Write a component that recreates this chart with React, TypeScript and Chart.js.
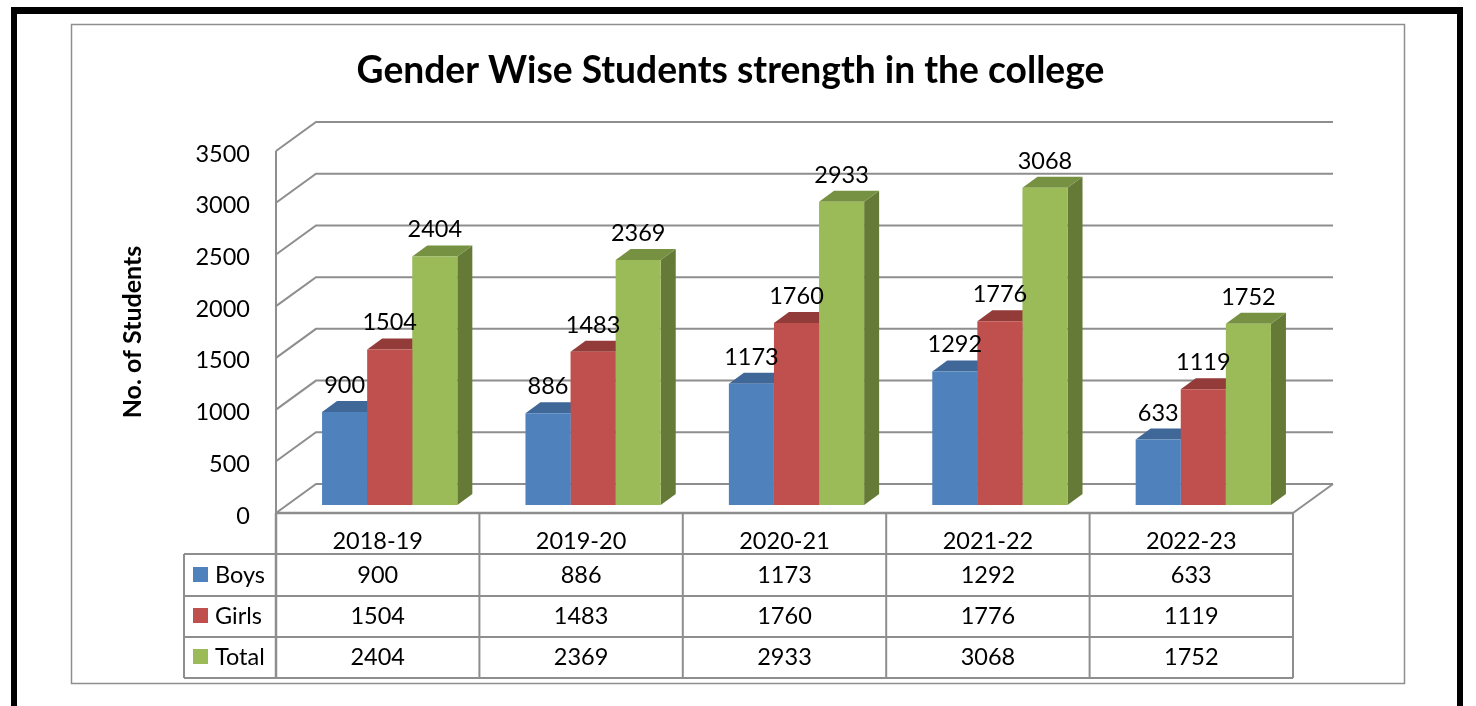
import React, { useEffect, useRef } from "react";
import { Chart, registerables } from "chart.js";

Chart.register(...registerables);

const categories = ["2018-19", "2019-20", "2020-21", "2021-22", "2022-23"];
const boys = [900, 886, 1173, 1292, 633];
const girls = [1504, 1483, 1760, 1776, 1119];
const total = [2404, 2369, 2933, 3068, 1752];
const seriesNames = ["Boys", "Girls", "Total"];
const seriesValues = [boys, girls, total];
const frontColors = ["#4f81bd", "#c0504d", "#9bbb59"];
const topColors = ["#3f6797", "#923b39", "#779142"];
const sideColors = ["#38577f", "#7e3432", "#667a38"];
const yTicks = [0, 500, 1000, 1500, 2000, 2500, 3000, 3500];
const titleText = "Gender Wise Students strength in the college";
const yTitle = "No. of Students";

const FONT = "Lato, Carlito, Calibri, sans-serif";
const GRID = "#8e8e8e";
const WALL_DX = 40;
const WALL_DY = -29;
const BAR_SHIFT_X = 12;
const BAR_SHIFT_Y = -8;
const BAR_DX = 15;
const BAR_DY = -11;
const ROWS = [554, 596, 637, 678];
const BASELINES = [583, 624, 665];

const poly = (ctx: CanvasRenderingContext2D, pts: number[][], fill: string) => {
  ctx.beginPath();
  pts.forEach(([x, y], i) => (i ? ctx.lineTo(x, y) : ctx.moveTo(x, y)));
  ctx.closePath();
  ctx.fillStyle = fill;
  ctx.fill();
};

const line = (ctx: CanvasRenderingContext2D, pts: number[][], w = 2, color = GRID) => {
  ctx.beginPath();
  pts.forEach(([x, y], i) => (i ? ctx.lineTo(x, y) : ctx.moveTo(x, y)));
  ctx.strokeStyle = color;
  ctx.lineWidth = w;
  ctx.stroke();
};

const scene = {
  id: "scene",
  afterLayout(chart: any) {
    chart.titleBlock.left = 120;
    chart.titleBlock.right = 1341;
  },
  beforeDraw(chart: any) {
    const ctx = chart.ctx;
    ctx.save();
    ctx.fillStyle = "#fff";
    ctx.fillRect(0, 0, chart.width, chart.height);
    ctx.fillStyle = "#000";
    ctx.fillRect(11, 7, 1452, 7);
    ctx.fillRect(11, 7, 6, 699);
    ctx.fillRect(1457, 7, 6, 699);
    ctx.strokeStyle = GRID;
    ctx.lineWidth = 1.5;
    ctx.strokeRect(71.5, 24.5, 1333, 659);
    ctx.restore();
  },
  beforeDatasetsDraw(chart: any) {
    const ctx = chart.ctx;
    const { left, right, top, bottom } = chart.chartArea;
    ctx.save();
    yTicks.forEach((v) => {
      const y = chart.scales.y.getPixelForValue(v);
      line(ctx, [[left, y], [left + WALL_DX, y + WALL_DY], [right + WALL_DX, y + WALL_DY]]);
    });
    line(ctx, [[right + WALL_DX, bottom + WALL_DY], [right, bottom]]);
    line(ctx, [[left, top], [left, bottom]]);
    ctx.restore();
    ctx.save();
    ctx.translate(BAR_SHIFT_X, BAR_SHIFT_Y);
    seriesValues.forEach((_, s) => {
      chart.getDatasetMeta(s).data.forEach((bar: any) => {
        const { x, y, base, width } = bar;
        const l = x - width / 2;
        const r = x + width / 2;
        poly(ctx, [[r, y], [r + BAR_DX, y + BAR_DY], [r + BAR_DX, base + BAR_DY], [r, base]], sideColors[s]);
        poly(ctx, [[l, y], [l + BAR_DX, y + BAR_DY], [r + BAR_DX, y + BAR_DY], [r, y]], topColors[s]);
      });
    });
  },
  afterDatasetsDraw(chart: any) {
    const ctx = chart.ctx;
    ctx.restore();
    const { left, right, bottom } = chart.chartArea;
    const xs = chart.scales.x;
    ctx.save();
    line(ctx, [[left, bottom], [right, bottom]], 2.5);
    const step = (right - left) / categories.length;
    categories.forEach((_, i) => {
      const x = left + step * i;
      line(ctx, [[x, bottom], [x, ROWS[3]]], i === 0 ? 2.5 : 2);
    });
    line(ctx, [[right, bottom], [right, ROWS[3]]], 2);
    ROWS.forEach((y) => line(ctx, [[184, y], [right, y]], 2));
    line(ctx, [[184, ROWS[0]], [184, ROWS[3]]], 2);

    ctx.font = `23.5px ${FONT}`;
    ctx.fillStyle = "#000";
    ctx.textBaseline = "alphabetic";
    seriesValues.forEach((vals, s) => {
      ctx.fillStyle = frontColors[s];
      ctx.fillRect(193, BASELINES[s] - 16, 15, 15);
      ctx.fillStyle = "#000";
      ctx.textAlign = "left";
      ctx.fillText(seriesNames[s], 215, BASELINES[s]);
      ctx.textAlign = "center";
      vals.forEach((v, i) => {
        ctx.fillText(String(v), xs.getPixelForValue(i), BASELINES[s]);
        const bar = chart.getDatasetMeta(s).data[i];
        ctx.fillText(String(v), bar.x + BAR_SHIFT_X, bar.y + BAR_SHIFT_Y - 19);
      });
    });
    ctx.restore();
  },
};

export default function App() {
  const ref = useRef<HTMLCanvasElement>(null);
  useEffect(() => {
    const chart = new Chart(ref.current as HTMLCanvasElement, {
      type: "bar",
      plugins: [scene],
      data: {
        labels: categories,
        datasets: seriesValues.map((vals, s) => ({
          label: seriesNames[s],
          data: vals,
          backgroundColor: frontColors[s],
          barPercentage: 1,
          categoryPercentage: 0.665,
          clip: false,
        })),
      },
      options: {
        animation: false,
        responsive: false,
        layout: { padding: { left: 118, right: 183, top: 0, bottom: 28 } },
        plugins: {
          legend: { display: false },
          tooltip: { enabled: false },
          title: {
            display: true,
            text: titleText,
            color: "#000",
            font: { family: FONT, size: 37.2, weight: "bold", lineHeight: 1.2 },
            padding: { top: 49, bottom: 57.4 },
          },
        },
        scales: {
          x: {
            grid: { display: false, drawTicks: false },
            border: { display: false },
            afterFit: (s: any) => {
              s.height = 165;
            },
            ticks: {
              color: "#000",
              font: { family: FONT, size: 23.5 },
              padding: 14,
              maxRotation: 0,
              autoSkip: false,
            },
          },
          y: {
            min: 0,
            max: 3500,
            grid: { display: false, drawTicks: false },
            border: { display: false },
            afterFit: (s: any) => {
              s.width = 158;
            },
            afterBuildTicks: (s: any) => {
              s.ticks = yTicks.map((value) => ({ value }));
            },
            ticks: {
              color: "#000",
              font: { family: FONT, size: 23.5 },
              padding: 26,
              labelOffset: 3,
              callback: (v: any) => String(v),
            },
            title: {
              display: true,
              text: yTitle,
              color: "#000",
              font: { family: FONT, size: 25, weight: "bold", lineHeight: 1.2 },
              padding: 0,
            },
          },
        },
      },
    } as any);
    return () => chart.destroy();
  }, []);
  return (
    <canvas
      ref={ref}
      width={1476}
      height={706}
      style={{ position: "fixed", left: 0, top: 0, width: 1476, height: 706, display: "block" }}
    />
  );
}
